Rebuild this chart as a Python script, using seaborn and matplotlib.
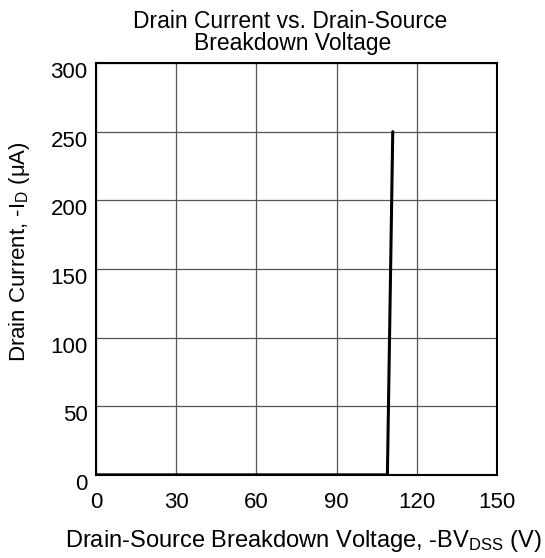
import matplotlib
matplotlib.use("Agg")
import matplotlib.pyplot as plt
from matplotlib.transforms import ScaledTranslation
import seaborn as sns
import pandas as pd

voltage = [0, 109, 111]
current = [0, 0, 250]
x_ticks = [0, 30, 60, 90, 120, 150]
y_ticks = [0, 50, 100, 150, 200, 250, 300]
title_lines = ["Drain Current vs. Drain-Source", "Breakdown Voltage"]

sns.set_theme(style="white")
plt.rcParams['font.family'] = ['Liberation Sans', 'DejaVu Sans']
plt.rcParams['mathtext.fontset'] = 'custom'
plt.rcParams['mathtext.rm'] = 'Liberation Sans'
plt.rcParams['mathtext.it'] = 'Liberation Sans'

df = pd.DataFrame({"v": voltage, "i": current})

fig = plt.figure(figsize=(5.45, 5.58), dpi=100)
ax = fig.add_axes([0.176, 0.149, 0.736, 0.738])
sns.lineplot(data=df, x="v", y="i", ax=ax, color="black", linewidth=2.2, sort=False, zorder=3)

ax.set_xlim(0, 150)
ax.set_ylim(0, 300)
ax.set_xticks(x_ticks)
ax.set_yticks(y_ticks)
ax.tick_params(axis='both', length=0, labelsize=16, colors='black')
ax.tick_params(axis='x', pad=12)
ax.tick_params(axis='y', pad=6)
off = ScaledTranslation(0, -5 / 72, fig.dpi_scale_trans)
for lab in ax.get_yticklabels():
    lab.set_transform(lab.get_transform() + off)
ax.grid(True, color='#555555', linewidth=0.9)
for s in ax.spines.values():
    s.set_color('black')
    s.set_linewidth(1.5)
    s.set_visible(True)
ax.set_xlabel("")
ax.set_ylabel("")

fig.text(290 / 545, 1 - 28 / 558, title_lines[0],
         fontsize=16.5, color='black', ha='center', va='baseline')
fig.text(293 / 545, 1 - 50 / 558, title_lines[1],
         fontsize=16.5, color='black', ha='center', va='baseline')
fig.text(303 / 545, 1 - 547 / 558, r"Drain-Source Breakdown Voltage, -BV$_\mathregular{DSS}$ (V)",
         fontsize=17, color='black', ha='center', va='baseline')
fig.text(20 / 545, 1 - 252 / 558, r"Drain Current, -I$_\mathregular{D}$ ($\mathregular{\mu}$A)",
         fontsize=16, color='black', ha='center', va='center', rotation=90)

fig.savefig("out.png", dpi=100)
